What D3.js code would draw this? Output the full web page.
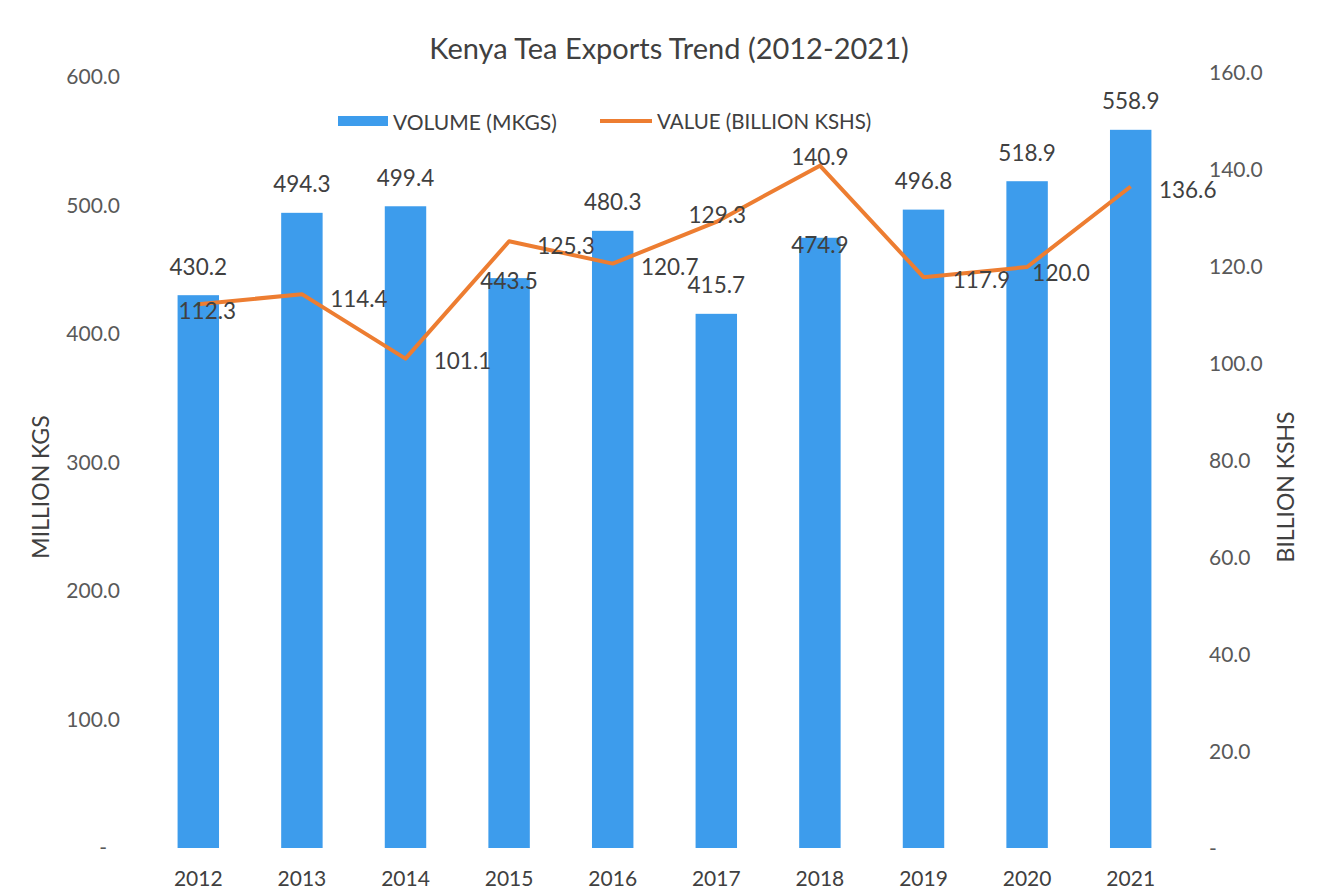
<!DOCTYPE html>
<html>
<head>
<meta charset="utf-8">
<script src="https://cdn.jsdelivr.net/npm/d3@7"></script>
<style>
  body { margin: 0; background: #fff; }
  text { font-family: Lato, "Open Sans", sans-serif; }
</style>
</head>
<body>
<div id="chart"></div>
<script>
// DATA
var years = ["2012", "2013", "2014", "2015", "2016", "2017", "2018", "2019", "2020", "2021"];
var volume = [430.2, 494.3, 499.4, 443.5, 480.3, 415.7, 474.9, 496.8, 518.9, 558.9];   // million kgs
var value = [112.3, 114.4, 101.1, 125.3, 120.7, 129.3, 140.9, 117.9, 120.0, 136.6];    // billion kshs
var leftTicks = [0, 100, 200, 300, 400, 500, 600];
var rightTicks = [0, 20, 40, 60, 80, 100, 120, 140, 160];

// label placement (label centre relative to the point / bar top)
var valueLabelOffset = [[9, 6], [57, 4], [57, 2], [57, 4], [57, 3], [1, -7], [0, -9], [58, 2], [34, 5], [57, 3]];
var volumeLabelOffset = [-29, -29, -29, 2, -29, -29, 7, -29, -29, -29];

var width = 1326, height = 892;
var barColor = "#3d9cec", lineColor = "#ed7d31";
var fmt = d3.format(".1f");

var svg = d3.select("#chart").append("svg")
    .attr("width", width)
    .attr("height", height);

// scales
var x = d3.scaleBand()
    .domain(years)
    .range([146.5, 1182.5])
    .paddingInner(0.6)
    .paddingOuter(0.3);
var yLeft = d3.scaleLinear().domain([0, 600]).range([848, 77]);
var yRight = d3.scaleLinear().domain([0, 160]).range([849, 73]);

// title
svg.append("text")
    .attr("x", 669).attr("y", 47)
    .attr("text-anchor", "middle")
    .attr("dominant-baseline", "central")
    .attr("font-size", 29)
    .attr("fill", "#404040")
    .text("Kenya Tea Exports Trend (2012-2021)");

// legend
var legend = svg.append("g");
legend.append("rect")
    .attr("x", 338).attr("y", 116).attr("width", 50).attr("height", 10)
    .attr("fill", barColor);
legend.append("text")
    .attr("x", 393).attr("y", 121)
    .attr("dominant-baseline", "central")
    .attr("font-size", 21).attr("fill", "#404040")
    .text("VOLUME (MKGS)");
legend.append("line")
    .attr("x1", 600).attr("x2", 652).attr("y1", 121).attr("y2", 121)
    .attr("stroke", lineColor).attr("stroke-width", 4);
legend.append("text")
    .attr("x", 657).attr("y", 121)
    .attr("dominant-baseline", "central")
    .attr("font-size", 20.5).attr("fill", "#404040")
    .text("VALUE (BILLION KSHS)");

// axes
var tickFmt = d => d === 0 ? "-" : fmt(d);
var leftAxis = svg.append("g")
    .attr("transform", "translate(120,0)")
    .call(d3.axisLeft(yLeft).tickValues(leftTicks).tickFormat(tickFmt).tickSize(0).tickPadding(0));
var rightAxis = svg.append("g")
    .attr("transform", "translate(1209,0)")
    .call(d3.axisRight(yRight).tickValues(rightTicks).tickFormat(tickFmt).tickSize(0).tickPadding(0));
var bottomAxis = svg.append("g")
    .attr("transform", "translate(0,871)")
    .call(d3.axisBottom(x).tickSize(0).tickPadding(0));

[leftAxis, rightAxis, bottomAxis].forEach(function (a) {
    a.select(".domain").remove();
    a.selectAll("text")
        .attr("font-family", "Lato, 'Open Sans', sans-serif")
        .attr("font-size", 21)
        .attr("fill", "#595959");
});
leftAxis.selectAll("text").filter(d => d === 0).attr("dx", -13);
bottomAxis.selectAll("text").attr("dy", "0.7em").attr("fill", "#404040");

// axis titles
svg.append("text")
    .attr("transform", "translate(40,487) rotate(-90)")
    .attr("text-anchor", "middle")
    .attr("dominant-baseline", "central")
    .attr("font-size", 23).attr("fill", "#404040")
    .text("MILLION KGS");
svg.append("text")
    .attr("transform", "translate(1285,487) rotate(-90)")
    .attr("text-anchor", "middle")
    .attr("dominant-baseline", "central")
    .attr("font-size", 23).attr("fill", "#404040")
    .text("BILLION KSHS");

// bars
svg.append("g").selectAll("rect")
    .data(volume)
    .enter().append("rect")
    .attr("x", (d, i) => x(years[i]))
    .attr("y", d => yLeft(d))
    .attr("width", x.bandwidth())
    .attr("height", d => yLeft(0) - yLeft(d))
    .attr("fill", barColor);

// line
var line = d3.line()
    .x((d, i) => x(years[i]) + x.bandwidth() / 2)
    .y(d => yRight(d));
svg.append("path")
    .datum(value)
    .attr("d", line)
    .attr("fill", "none")
    .attr("stroke", lineColor)
    .attr("stroke-width", 4)
    .attr("stroke-linejoin", "round");

// bar labels
svg.append("g").selectAll("text")
    .data(volume)
    .enter().append("text")
    .attr("x", (d, i) => x(years[i]) + x.bandwidth() / 2)
    .attr("y", (d, i) => yLeft(d) + volumeLabelOffset[i])
    .attr("text-anchor", "middle")
    .attr("dominant-baseline", "central")
    .attr("font-size", 22.5).attr("fill", "#404040")
    .text(d => fmt(d));

// line labels
svg.append("g").selectAll("text")
    .data(value)
    .enter().append("text")
    .attr("x", (d, i) => x(years[i]) + x.bandwidth() / 2 + valueLabelOffset[i][0])
    .attr("y", (d, i) => yRight(d) + valueLabelOffset[i][1])
    .attr("text-anchor", "middle")
    .attr("dominant-baseline", "central")
    .attr("font-size", 22.5).attr("fill", "#404040")
    .text(d => fmt(d));
</script>
</body>
</html>
